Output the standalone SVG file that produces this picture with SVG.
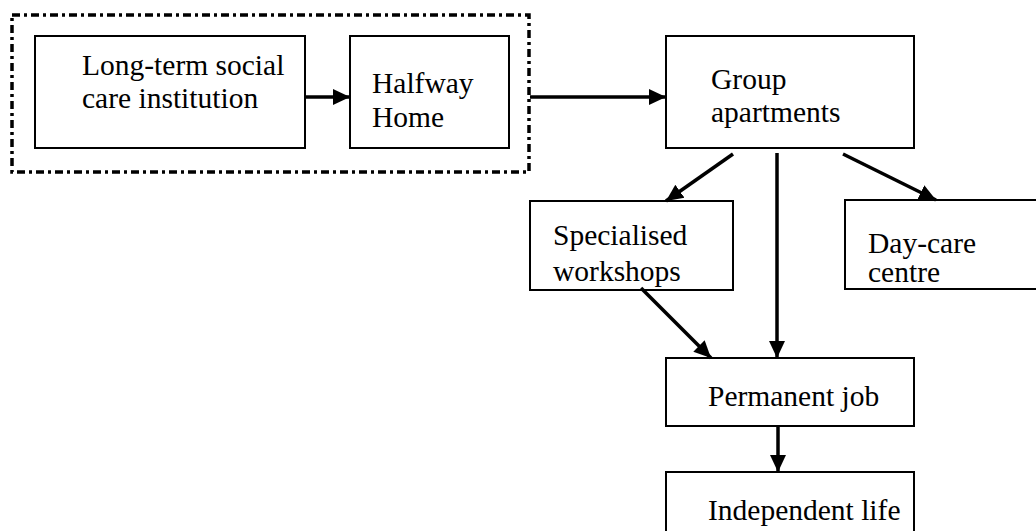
<svg xmlns="http://www.w3.org/2000/svg" width="1036" height="531" viewBox="0 0 1036 531">
<style>
.box{fill:#fff;stroke:#000;stroke-width:2}
.t{font-family:"Liberation Serif","Times New Roman",serif;font-size:29.5px;fill:#000}
.c{stroke:#000;stroke-width:3.5;fill:none;marker-end:url(#ah)}
</style>
<defs>
<marker id="ah" markerUnits="userSpaceOnUse" markerWidth="20" markerHeight="18" refX="17" refY="9" orient="auto">
<path d="M0,1 L17,9 L0,17 Z" fill="#000"/>
</marker>
</defs>
<rect width="1036" height="531" fill="#fff"/>
<g id="group-frame">
<rect x="12" y="15" width="517" height="157" fill="none" stroke="#000" stroke-width="3.5" stroke-dasharray="8 4 3 4"/>
</g>
<g id="longterm">
<rect class="box" x="35" y="36" width="270" height="112"/>
<text class="t" x="82" y="75">Long-term social</text>
<text class="t" x="82" y="108">care institution</text>
</g>
<g id="halfway">
<rect class="box" x="350" y="36" width="159" height="112"/>
<text class="t" x="372" y="93">Halfway</text>
<text class="t" x="372" y="127">Home</text>
</g>
<g id="group-apartments">
<rect class="box" x="666" y="36" width="248" height="112"/>
<text class="t" x="711" y="89">Group</text>
<text class="t" x="711" y="122">apartments</text>
</g>
<g id="workshops">
<rect class="box" x="530" y="201" width="203" height="89"/>
<text class="t" x="553" y="245">Specialised</text>
<text class="t" x="553" y="281">workshops</text>
</g>
<g id="daycare">
<rect class="box" x="845" y="200" width="200" height="89"/>
<text class="t" x="868" y="253">Day-care</text>
<text class="t" x="868" y="282">centre</text>
</g>
<g id="permanent">
<rect class="box" x="666" y="358" width="248" height="68"/>
<text class="t" x="708" y="406">Permanent job</text>
</g>
<g id="independent">
<rect class="box" x="666" y="472" width="248" height="70"/>
<text class="t" x="708" y="520">Independent life</text>
</g>
<g id="connectors">
<line class="c" x1="305" y1="97" x2="350" y2="97"/>
<line class="c" x1="530" y1="97" x2="666" y2="97"/>
<line class="c" x1="733" y1="154" x2="666" y2="201"/>
<line class="c" x1="777" y1="153" x2="777" y2="358"/>
<line class="c" x1="843" y1="154" x2="936" y2="200"/>
<line class="c" x1="641" y1="288" x2="711" y2="358"/>
<line class="c" x1="778" y1="426" x2="778" y2="472"/>
</g>
</svg>
